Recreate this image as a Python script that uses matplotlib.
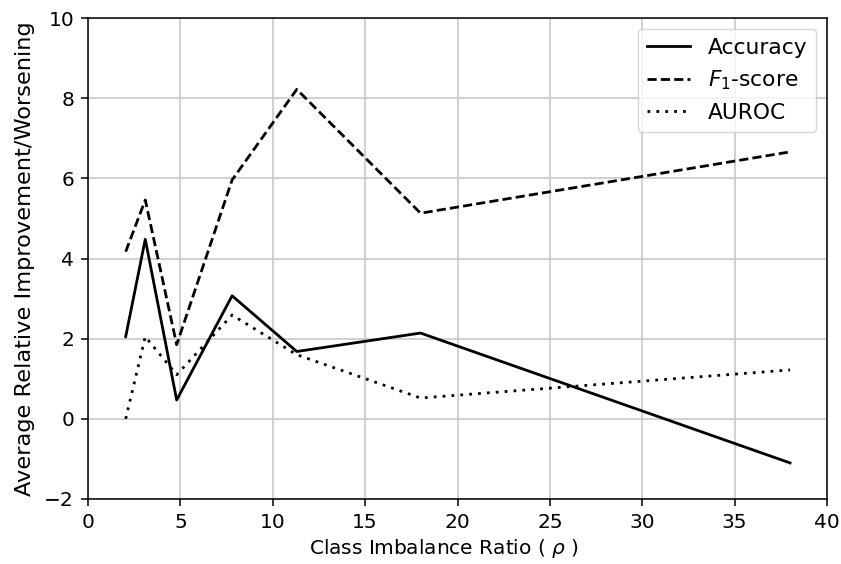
import matplotlib
matplotlib.use("Agg")
import matplotlib.pyplot as plt

ratio = [2.04, 3.1, 4.8, 7.8, 11.3, 18.0, 38.0]
accuracy = [2.05, 4.48, 0.47, 3.07, 1.68, 2.14, -1.1]
f1_score = [4.17, 5.46, 1.85, 5.96, 8.22, 5.13, 6.66]
auroc = [0.0, 2.05, 1.1, 2.59, 1.6, 0.52, 1.22]

plt.rcParams['mathtext.fontset'] = 'dejavusans'

fig = plt.figure(figsize=(8.41, 5.64), dpi=100)
ax = fig.add_axes([88/841, 65/564, (827-88)/841, (499-18)/564])

ax.plot(ratio, accuracy, color="black", linestyle="-", linewidth=2.0, label="Accuracy")
ax.plot(ratio, f1_score, color="black", linestyle=(0, (3.3, 1.5)), linewidth=2.0, label="$F_1$-score")
ax.plot(ratio, auroc, color="black", linestyle=(0, (1, 2.2)), linewidth=2.0, label="AUROC")

ax.set_xlim(0, 40)
ax.set_ylim(-2, 10)
ax.grid(True, color="#c8c8c8", linewidth=1.2)
ax.set_axisbelow(True)
for s in ax.spines.values():
    s.set_linewidth(1.1)
ax.tick_params(labelsize=14.5, length=5, width=1.1, pad=5)
ax.set_xlabel(r"Class Imbalance Ratio ( $\rho$ )", fontsize=14.5, labelpad=4)
ax.xaxis.label.set_x(0.482)
ax.set_ylabel("Average Relative Improvement/Worsening", fontsize=16.2, labelpad=7)
ax.legend(loc="upper right", fontsize=15.7)

fig.savefig("out.png", dpi=100)
